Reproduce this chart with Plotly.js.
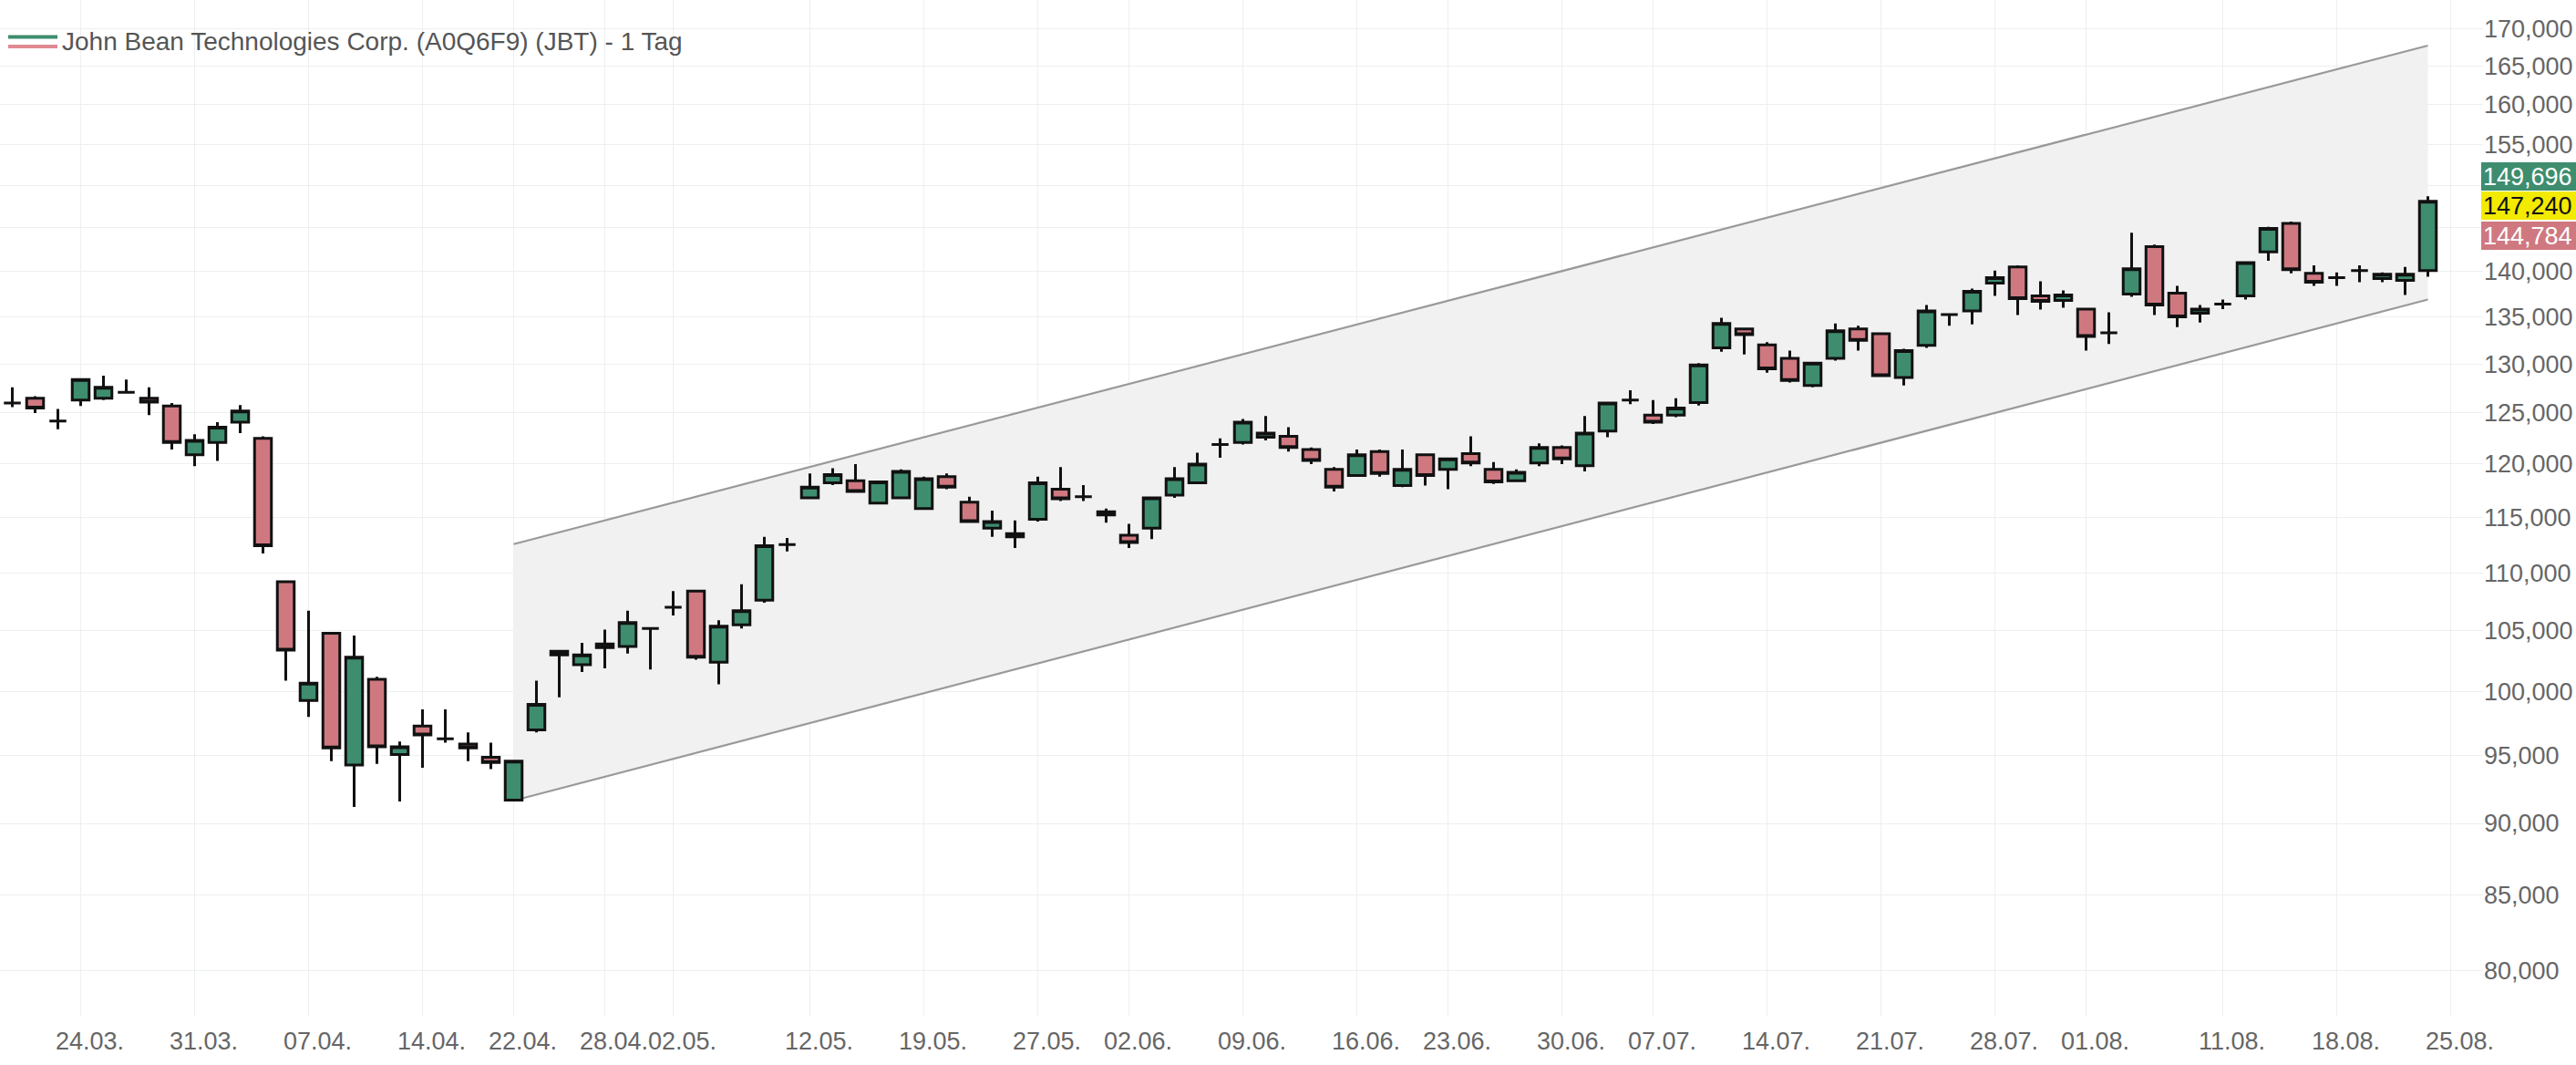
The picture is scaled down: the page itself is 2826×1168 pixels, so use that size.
<!DOCTYPE html>
<html><head><meta charset="utf-8">
<script src="https://cdn.plot.ly/plotly-3.0.1.min.js"></script>
<style>html,body{margin:0;padding:0;background:#fff;}#chart{width:2826px;height:1168px;}</style>
</head><body><div id="chart"></div>
<script>
const dates = ['2025-03-19','2025-03-20','2025-03-21','2025-03-24','2025-03-25','2025-03-26','2025-03-27','2025-03-28','2025-03-31','2025-04-01','2025-04-02','2025-04-03','2025-04-04','2025-04-07','2025-04-08','2025-04-09','2025-04-10','2025-04-11','2025-04-14','2025-04-15','2025-04-16','2025-04-17','2025-04-22','2025-04-23','2025-04-24','2025-04-25','2025-04-28','2025-04-29','2025-04-30','2025-05-02','2025-05-05','2025-05-06','2025-05-07','2025-05-08','2025-05-09','2025-05-12','2025-05-13','2025-05-14','2025-05-15','2025-05-16','2025-05-19','2025-05-20','2025-05-21','2025-05-22','2025-05-23','2025-05-27','2025-05-28','2025-05-29','2025-05-30','2025-06-02','2025-06-03','2025-06-04','2025-06-05','2025-06-06','2025-06-09','2025-06-10','2025-06-11','2025-06-12','2025-06-13','2025-06-16','2025-06-17','2025-06-18','2025-06-20','2025-06-23','2025-06-24','2025-06-25','2025-06-26','2025-06-27','2025-06-30','2025-07-01','2025-07-02','2025-07-03','2025-07-07','2025-07-08','2025-07-09','2025-07-10','2025-07-11','2025-07-14','2025-07-15','2025-07-16','2025-07-17','2025-07-18','2025-07-21','2025-07-22','2025-07-23','2025-07-24','2025-07-25','2025-07-28','2025-07-29','2025-07-30','2025-07-31','2025-08-01','2025-08-04','2025-08-05','2025-08-06','2025-08-07','2025-08-08','2025-08-11','2025-08-12','2025-08-13','2025-08-14','2025-08-15','2025-08-18','2025-08-19','2025-08-20','2025-08-21','2025-08-22'];

const open = [126000,126500,124200,126300,126500,127100,126500,125700,120900,122100,124100,122500,109200,99300,104800,94300,101000,95100,97300,96300,95900,94900,91700,97000,103300,102200,103900,103700,105200,107000,108400,102400,105500,107600,112500,116800,118200,118400,116300,116800,115800,118800,116400,114000,113200,114800,117600,116900,115500,113350,114000,117050,118200,121900,122100,122600,122700,121400,119500,118900,121200,117950,120900,119500,121000,119500,118400,120100,121600,119850,123200,126300,124800,124800,126050,131700,133700,132000,130600,127800,130600,133700,133200,128600,131950,135250,135650,138700,140500,137300,136800,135850,133300,137500,142800,137600,135400,136400,137300,142200,145500,139800,139300,140100,139200,139000,140100];
const high = [127600,126700,125400,128500,128800,128400,127600,126000,122900,124100,125800,122700,109300,106700,104900,104600,101200,96100,98600,98600,96800,96000,94700,100900,103400,104000,105100,106700,105300,108400,108500,105900,109000,113200,113100,119100,119600,120000,118400,119500,118800,119100,116900,115600,114700,118800,119700,118000,115800,114400,116900,119700,121100,122500,124400,124700,123600,121600,119700,121400,121400,121400,121000,120600,122700,120200,119500,122000,121800,124700,126100,127300,126300,126500,130100,134900,133800,132300,131400,130250,134300,134050,133300,131600,136300,135400,138100,140100,140700,138900,137900,136000,135500,144400,143050,138400,136300,136900,141100,145100,145700,140700,139900,140700,139900,140500,148700];
const low = [125600,125000,123400,125700,126300,127000,124800,121400,119800,120300,123000,111700,100900,98000,94600,91200,94400,91600,94100,96000,94600,94000,91600,96800,99550,101600,101900,103100,101800,106300,102600,100600,105200,107400,111900,116700,118000,117300,116200,116700,115700,117600,114500,113200,112200,114600,116500,116500,114500,112200,113000,116800,118100,120600,121900,122300,121200,120000,117400,118800,118800,117800,117950,117600,119800,118100,118300,119800,120000,119300,122600,125900,123900,124600,125750,131300,131000,129100,128100,127600,130350,131400,128700,127800,131700,134050,134200,137300,135200,135800,136000,131400,132100,137200,135200,133900,134400,135850,136900,141200,139800,138400,138400,138800,138800,137400,139400];
const close = [126000,125500,124200,128400,127600,127100,126100,122100,122300,123600,125200,112400,103400,100700,95600,102800,95700,95700,96600,96300,95600,94500,94600,99000,103000,103000,103600,105700,105200,107000,102800,105400,106700,112400,112500,117800,119000,117400,118300,119300,118600,117800,114600,114600,113500,118200,116700,116900,115200,112700,116800,118600,120000,121900,124100,123000,121600,120350,117800,120900,119100,119500,118900,120500,120100,118300,119200,121600,120500,123000,126000,126300,124100,125500,129900,134300,133100,129500,128300,130100,133500,132500,128800,131400,135650,135250,137800,139300,137000,136700,137400,132900,133300,140300,136300,135000,135850,136400,141000,144900,140200,138800,139300,140100,139700,139700,148100];

const tickDates = ['2025-03-24','2025-03-31','2025-04-07','2025-04-14','2025-04-22','2025-04-28','2025-05-02','2025-05-12','2025-05-19','2025-05-27','2025-06-02','2025-06-09','2025-06-16','2025-06-23','2025-06-30','2025-07-07','2025-07-14','2025-07-21','2025-07-28','2025-08-01','2025-08-11','2025-08-18','2025-08-25'];
const yTicks = [80000,85000,90000,95000,100000,105000,110000,115000,120000,125000,130000,135000,140000,145000,150000,155000,160000,165000,170000];
const yTicksHiddenByTags = [145000, 150000];

const channelDates = ['2025-04-22','2025-08-22'];
const channelTop = [112550, 167750];
const channelBottom = [91660, 136890];

const tagTexts = ['149,696','147,240','144,784'];
const seriesName = 'John Bean Technologies Corp. (A0Q6F9) (JBT) - 1 Tag';

const GREEN = '#3e8d6e', RED = '#cf7880', YELLOW = '#f2ea00';
const FONT = 'Liberation Sans, Arial, sans-serif';
const W = 2826, H = 1168, mL = 0, mR = 102, mT = 0, mB = 53;
const plotW = W - mL - mR, plotH = H - mT - mB;
const X_RANGE = [-0.54, 108.42];
const Y_RANGE = [4.88705, 5.24051];

const pos = d => { const k = dates.indexOf(d); return k >= 0 ? k : dates.length; };
const xIdx = dates.map((d, i) => i);
const cx = channelDates.map(pos);

const traces = [
  {type:'scatter', mode:'lines', x:[cx[0], cx[1], cx[1], cx[0]],
   y:[channelTop[0], channelTop[1], channelBottom[1], channelBottom[0]],
   fill:'toself', fillcolor:'#f1f1f1', line:{width:0, color:'rgba(0,0,0,0)'}, hoverinfo:'skip', xaxis:'x', yaxis:'y'},
  {type:'scatter', mode:'lines', x:cx, y:channelTop, line:{color:'#999999', width:2.2}, hoverinfo:'skip', xaxis:'x', yaxis:'y'},
  {type:'scatter', mode:'lines', x:cx, y:channelBottom, line:{color:'#999999', width:2.2}, hoverinfo:'skip', xaxis:'x', yaxis:'y'},
  {type:'candlestick', x:xIdx, open:open, high:high, low:low, close:close, xaxis:'x2', yaxis:'y2',
   increasing:{fillcolor:GREEN, line:{color:'#111111', width:3}},
   decreasing:{fillcolor:RED, line:{color:'#111111', width:3}},
   whiskerwidth:0, hoverinfo:'skip'}
];

const tagY = [193, 225.5, 258];
const tagBg = [GREEN, YELLOW, RED];
const tagFg = ['#ffffff', '#111111', '#ffffff'];
const annotations = tagTexts.map((t, k) => ({
  xref:'paper', yref:'paper', x:2722/plotW, y:1 - tagY[k]/plotH, xanchor:'left', yanchor:'middle',
  text:t, showarrow:false, bgcolor:tagBg[k], font:{family:FONT, size:27, color:tagFg[k]},
  width:118, height:27, align:'left', borderpad:2, borderwidth:0
}));
annotations.push({xref:'paper', yref:'paper', x:66/plotW, y:1 - 45/plotH, xanchor:'left', yanchor:'middle',
  text:seriesName, showarrow:false, font:{family:FONT, size:28, color:'#555555'}});

const shapes = [
  {type:'line', xref:'paper', yref:'paper', x0:9/plotW, x1:63/plotW, y0:1-40.5/plotH, y1:1-40.5/plotH, line:{color:GREEN, width:4}},
  {type:'line', xref:'paper', yref:'paper', x0:9/plotW, x1:63/plotW, y0:1-51/plotH, y1:1-51/plotH, line:{color:'#e08a92', width:4}}
];

const layout = {
  width:W, height:H, margin:{l:mL, r:mR, t:mT, b:mB, pad:0},
  paper_bgcolor:'#ffffff', plot_bgcolor:'#ffffff',
  font:{family:FONT, size:27, color:'#666666'},
  showlegend:false, hovermode:false, dragmode:false,
  boxgap:0.26, boxgroupgap:0,
  xaxis:{type:'linear', range:X_RANGE, tickmode:'array', tickangle:0, ticklabelstandoff:8, ticklabelshift:10,
    tickvals:tickDates.map(pos), ticktext:tickDates.map(d => d.slice(8,10) + '.' + d.slice(5,7) + '.'),
    showgrid:true, gridcolor:'#eceff0', gridwidth:1, zeroline:false, showline:false, ticks:'',
    tickfont:{family:FONT, size:27, color:'#666666'}, rangeslider:{visible:false}, fixedrange:true},
  yaxis:{type:'log', side:'right', range:Y_RANGE, tickmode:'array',
    tickvals:yTicks, ticktext:yTicks.map(v => yTicksHiddenByTags.includes(v) ? '' : v.toLocaleString('en-US')),
    showgrid:true, gridcolor:'#eceff0', gridwidth:1, zeroline:false, showline:false, ticks:'',
    tickfont:{family:FONT, size:27, color:'#666666'}, fixedrange:true},
  xaxis2:{type:'linear', range:X_RANGE, overlaying:'x', anchor:'y2', visible:false, showgrid:false,
    zeroline:false, rangeslider:{visible:false}, fixedrange:true},
  yaxis2:{type:'log', range:Y_RANGE, overlaying:'y', anchor:'x2', side:'right', visible:false, showgrid:false,
    zeroline:false, fixedrange:true},
  annotations:annotations, shapes:shapes
};

Plotly.newPlot('chart', traces, layout, {staticPlot:true, displayModeBar:false});
</script></body></html>
